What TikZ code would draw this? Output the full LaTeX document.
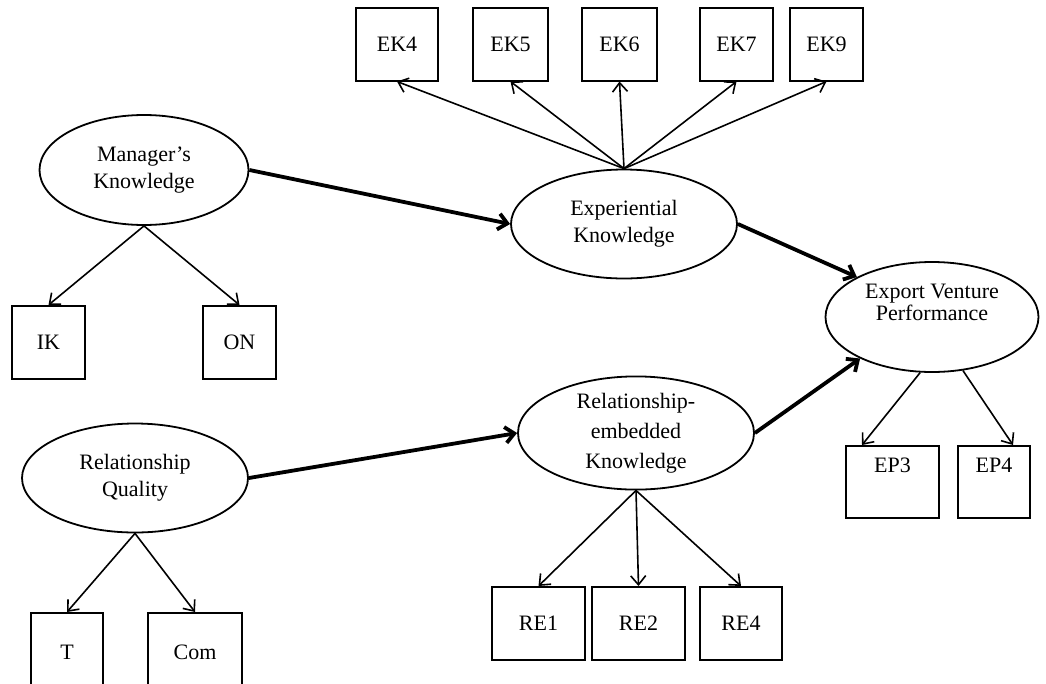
\documentclass[tikz,border=0pt]{standalone}
\usepackage{fontspec}
\setmainfont{Liberation Serif}
\usetikzlibrary{shapes.geometric,arrows.meta}
\begin{document}
\begin{tikzpicture}[x=1pt,y=-1pt,
  lat/.style={draw,ellipse,line width=1.8pt,inner sep=0pt,align=center,
              font=\fontsize{22}{27}\selectfont},
  ind/.style={draw,rectangle,line width=2pt,inner sep=0pt,
              font=\fontsize{22}{27}\selectfont},
  loading/.style={-{Straight Barb[length=9pt,width=15pt]},line width=1.6pt},
  structural/.style={-{Straight Barb[length=9pt,width=16pt]},line width=3.8pt},
]
\useasboundingbox (0,0) rectangle (1046,683);

% latent constructs
\node[lat,minimum width=209pt,minimum height=110pt] (mk) at (144,170) {Manager’s\\Knowledge};
\node[lat,minimum width=226pt,minimum height=109pt] (ek) at (624,224) {Experiential\\Knowledge};
\node[lat,minimum width=213pt,minimum height=110pt] (evp) at (932,317)
  {\raisebox{6.5pt}[0pt][0pt]{\fontsize{22}{21}\selectfont\begin{tabular}{@{}c@{}}Export Venture\\Performance\end{tabular}}};
\node[lat,minimum width=226pt,minimum height=109pt] (rq) at (135,478) {Relationship\\Quality};
\node[lat,minimum width=236pt,minimum height=108pt,font=\fontsize{22}{30}\selectfont] (rek) at (636,433)
  {Relationship-\\embedded\\Knowledge};

% indicators
\node[ind,minimum width=82pt,minimum height=73pt] (ek4) at (397,44) {EK4};
\node[ind,minimum width=75pt,minimum height=73pt] (ek5) at (510.5,44) {EK5};
\node[ind,minimum width=75pt,minimum height=73pt] (ek6) at (619.5,44) {EK6};
\node[ind,minimum width=73pt,minimum height=73pt] (ek7) at (736.5,44) {EK7};
\node[ind,minimum width=73pt,minimum height=73pt] (ek9) at (826.5,44) {EK9};
\node[ind,minimum width=73pt,minimum height=73pt] (ik) at (48.5,342.5) {IK};
\node[ind,minimum width=73pt,minimum height=73pt] (on) at (239.5,342.5) {ON};
\node[ind,minimum width=93pt,minimum height=72pt] (ep3) at (892.5,482) {\raisebox{10pt}[0pt][0pt]{EP3}};
\node[ind,minimum width=72pt,minimum height=72pt] (ep4) at (994,482) {\raisebox{10pt}[0pt][0pt]{EP4}};
\node[ind,minimum width=93pt,minimum height=73pt] (re1) at (538.5,623.5) {RE1};
\node[ind,minimum width=93pt,minimum height=73pt] (re2) at (638.5,623.5) {RE2};
\node[ind,minimum width=82pt,minimum height=73pt] (re4) at (741,623.5) {RE4};
\node[ind,minimum width=72pt,minimum height=86pt] (t) at (67,656) {\raisebox{-3pt}[0pt][0pt]{T}};
\node[ind,minimum width=94pt,minimum height=86pt] (com) at (195,656) {\raisebox{-3pt}[0pt][0pt]{Com}};

% measurement paths
\foreach \b in {ek4,ek5,ek6,ek7,ek9}
  \draw[loading] (ek.north) -- (\b.south);
\draw[loading] (mk.south) -- (ik.north);
\draw[loading] (mk.south) -- (on.north);
\draw[loading] (rq.south) -- (t.north);
\draw[loading] (rq.south) -- (com.north);
\foreach \b in {re1,re2,re4}
  \draw[loading] (rek.south) -- (\b.north);
\draw[loading] (evp.258) -- ([xshift=17pt]ep3.north west);
\draw[loading] (evp.300) -- ([xshift=19pt]ep4.north);

% structural paths
\draw[structural] (mk.east) -- (ek.west);
\draw[structural] (ek.east) -- (evp.152);
\draw[structural] (rq.east) -- (rek.west);
\draw[structural] (rek.east) -- (evp.210);
\end{tikzpicture}
\end{document}
